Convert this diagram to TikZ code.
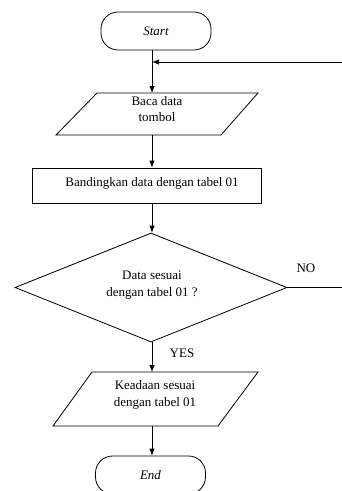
\documentclass[tikz,border=0pt]{standalone}
\usepackage{fontspec}
\setmainfont{Liberation Serif}
\usetikzlibrary{arrows.meta,shapes.geometric}
\begin{document}
\begin{tikzpicture}[x=1pt,y=1pt,
  line width=0.8pt,
  txt/.style={font=\fontsize{13}{16.7}\selectfont, align=center, inner sep=0pt},
  term/.style={draw, rounded corners=17pt, minimum width=110pt, minimum height=38pt, inner sep=0pt, font=\fontsize{13}{15}\selectfont\itshape},
  arr/.style={-{Latex[length=7pt,width=5.5pt]}},
  dec/.style={draw, diamond, minimum width=272pt, minimum height=109pt, inner sep=0pt}
]
\useasboundingbox (0,0) rectangle (342,-491);
\coordinate (ax) at (152,0);
% Start
\node[term] (start) at (156,-31) {Start};
% feedback junction
\coordinate (fbR) at (342,-62);
\coordinate (fbJ) at (152,-62);
% Parallelogram 1
\coordinate (p1a) at (97,-93);
\coordinate (p1b) at (258,-93);
\coordinate (p1c) at (221,-135);
\coordinate (p1d) at (56,-135);
\draw (p1a) -- (p1b) -- (p1c) -- (p1d) -- cycle;
\coordinate (p1top) at (152,-93);
\coordinate (p1bot) at (152,-135);
\node[txt] (in1) at (157,-109) {Baca data\\tombol};
% Process
\node[draw, minimum width=229pt, minimum height=35pt, inner sep=0pt] (proc) at (146.5,-185.5) {};
\node[txt] (proctxt) at (152,-183) {Bandingkan data dengan tabel 01};
% Decision
\node[dec] (dec) at (151,-287.5) {};
\node[txt] (dectxt) at (152,-285) {Data sesuai\\dengan tabel 01 ?};
\coordinate (noR) at (342,-287.5);
\node[txt, anchor=base] (no) at (306,-272) {NO};
\node[txt, anchor=base] (yes) at (182,-357) {YES};
% Parallelogram 2
\coordinate (p2a) at (92,-372);
\coordinate (p2b) at (258,-372);
\coordinate (p2c) at (218,-426);
\coordinate (p2d) at (53,-426);
\draw (p2a) -- (p2b) -- (p2c) -- (p2d) -- cycle;
\coordinate (p2top) at (152,-372);
\coordinate (p2bot) at (152,-426);
\node[txt] (out) at (155,-395) {Keadaan sesuai\\dengan tabel 01};
% End
\node[term] (end) at (150.5,-475) {End};
% connectors
\draw[arr] (start.south -| ax) -- (p1top);
\draw[arr] (fbR) -- (fbJ);
\draw[arr] (p1bot) -- (proc.north -| ax);
\draw[arr] (proc.south -| ax) -- (dec.north -| ax);
\draw (dec.east) -- (noR);
\draw[arr] (dec.south -| ax) -- (p2top);
\draw[arr] (p2bot) -- (end.north -| ax);
\end{tikzpicture}
\end{document}
